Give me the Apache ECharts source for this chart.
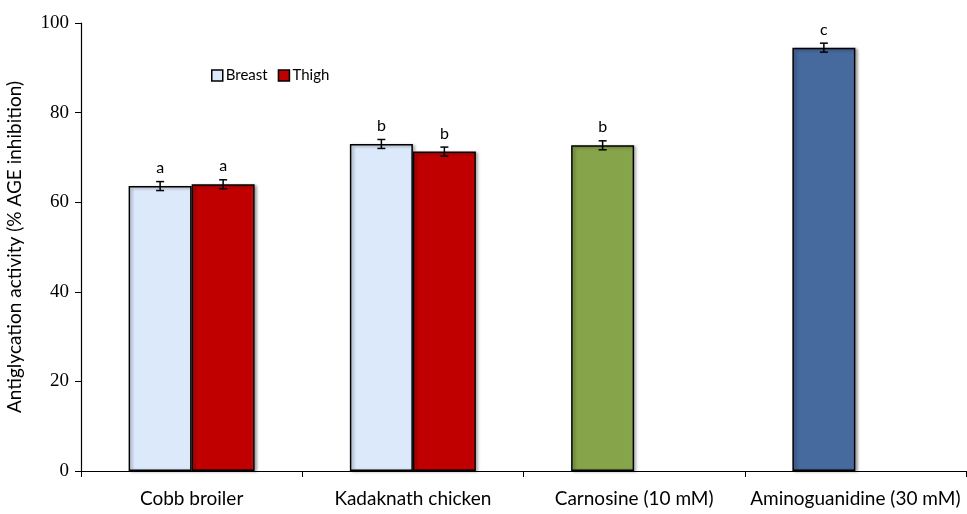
<!DOCTYPE html>
<html><head><meta charset="utf-8">
<script src="https://cdn.jsdelivr.net/npm/echarts@6/dist/echarts.min.js"></script>
<style>html,body{margin:0;padding:0;background:#fff}#c{width:967px;height:514px}</style>
</head><body><div id="c"></div>
<script>
var categories = ['Cobb broiler', 'Kadaknath chicken', 'Carnosine (10 mM)', 'Aminoguanidine (30 mM)'];
var breastValues = [63.6, 73.0, 72.7, 94.5];
var breastErrors = [1.0, 1.0, 1.0, 1.0];
var breastLetters = ['a', 'b', 'b', 'c'];
var thighValues = [64.0, 71.3, null, null];
var thighErrors = [1.0, 1.0, null, null];
var thighLetters = ['a', 'b', '', ''];
var barColors = ['#DCE9FA', '#DCE9FA', '#86A44A', '#46699E'];
var thighColor = '#C00000';
var yTicks = [0, 20, 40, 60, 80, 100];

var BW = 63;
function grad(c) {
  return new echarts.graphic.LinearGradient(0, 0, 1, 0, [
    {offset: 0, color: echarts.color.lift(c, 0.06)},
    {offset: 0.06, color: c},
    {offset: 0.94, color: c},
    {offset: 1, color: echarts.color.lift(c, 0.08)}
  ]);
}
function errSeries(vals, errs, off) {
  return {
    type: 'custom', z: 10, silent: true,
    data: vals.map(function (v, i) { return v == null ? null : [i, v, errs[i]]; }).filter(function(d){return d;}),
    renderItem: function (params, api) {
      var i = api.value(0), v = api.value(1), e = api.value(2);
      var hi = api.coord([i, v + e]), lo = api.coord([i, v - e]);
      var x = hi[0] + off, cap = 4;
      var st = {stroke: '#000', lineWidth: 1.5};
      return {type: 'group', children: [
        {type: 'line', shape: {x1: x, y1: hi[1], x2: x, y2: lo[1]}, style: st},
        {type: 'line', shape: {x1: x - cap, y1: hi[1], x2: x + cap, y2: hi[1]}, style: st},
        {type: 'line', shape: {x1: x - cap, y1: lo[1], x2: x + cap, y2: lo[1]}, style: st}
      ]};
    }
  };
}
var chart = echarts.init(document.getElementById('c'));
chart.setOption({
  animation: false,
  grid: {left: 81, right: 1, top: 23, bottom: 43, outerBoundsMode: 'none', containLabel: false},
  legend: {
    left: 206, top: 63, itemWidth: 11, itemHeight: 11, itemGap: 10,
    icon: 'rect',
    textStyle: {fontFamily: 'Lato', fontSize: 15, color: '#000', padding: [0,0,0,-2]},
    data: [
      {name: 'Breast', itemStyle: {color: '#DCE9FA', borderColor: '#000', borderWidth: 1.5}},
      {name: 'Thigh', itemStyle: {color: thighColor, borderColor: '#000', borderWidth: 1.5}}
    ]
  },
  xAxis: {
    type: 'category', data: categories,
    axisLine: {lineStyle: {color: '#000', width: 1.2}},
    axisTick: {show: true, length: 6, interval: 0, lineStyle: {color: '#000'}},
    axisLabel: {interval: 0, fontFamily: 'Lato', fontSize: 19, color: '#000', margin: 18}
  },
  yAxis: {
    type: 'value', min: 0, max: 100, interval: 20,
    name: 'Antiglycation activity (% AGE inhibition)', nameLocation: 'middle', nameGap: 57,
    nameTextStyle: {fontFamily: 'Lato', fontSize: 19, color: '#000'},
    axisLine: {show: true, lineStyle: {color: '#000', width: 1.2}},
    axisTick: {show: true, length: 6, lineStyle: {color: '#000'}},
    splitLine: {show: false},
    axisLabel: {fontFamily: 'Liberation Serif', fontSize: 19, color: '#000', margin: 12,
      formatter: function (v) { return yTicks.indexOf(v) >= 0 ? String(v) : ''; }}
  },
  series: [
    {
      name: 'Breast', type: 'bar', barWidth: BW, barGap: '0%',
      data: breastValues.map(function (v, i) {
        return {value: v, itemStyle: {color: grad(barColors[i])}};
      }),
      itemStyle: {borderColor: '#000', borderWidth: 1.5, shadowBlur: 3, shadowOffsetX: 2, shadowOffsetY: 1, shadowColor: 'rgba(0,0,0,0.35)'},
      label: {show: true, position: 'top', distance: 10, fontFamily: 'Lato', fontSize: 16, color: '#000',
        formatter: function (p) { return breastLetters[p.dataIndex]; }}
    },
    {
      name: 'Thigh', type: 'bar', barWidth: BW,
      data: thighValues.map(function (v) { return v == null ? '-' : v; }),
      itemStyle: {color: grad(thighColor), borderColor: '#000', borderWidth: 1.5, shadowBlur: 3, shadowOffsetX: 2, shadowOffsetY: 1, shadowColor: 'rgba(0,0,0,0.35)'},
      label: {show: true, position: 'top', distance: 10, fontFamily: 'Lato', fontSize: 16, color: '#000',
        formatter: function (p) { return thighLetters[p.dataIndex]; }}
    },
    errSeries(breastValues, breastErrors, -BW / 2),
    errSeries(thighValues, thighErrors, BW / 2)
  ]
});
</script></body></html>
